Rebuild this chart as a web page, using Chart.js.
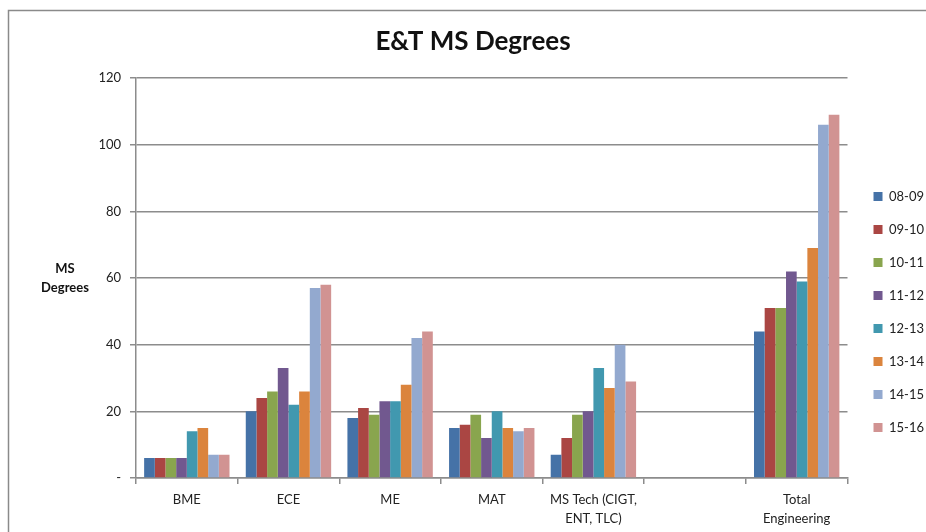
<!DOCTYPE html>
<html>
<head>
<meta charset="utf-8">
<script src="https://cdn.jsdelivr.net/npm/chart.js@4.4.0/dist/chart.umd.min.js"></script>
<style>
  html, body { margin: 0; padding: 0; background: #fff; }
  #wrap { width: 926px; height: 532px; }
</style>
</head>
<body>
<div id="wrap"><canvas id="msChart" width="926" height="532"></canvas></div>
<script>
// Categories and values
const categories = ['BME', 'ECE', 'ME', 'MAT', ['MS Tech (CIGT,', 'ENT, TLC)'], '', ['Total', 'Engineering']];
const years = ['08-09', '09-10', '10-11', '11-12', '12-13', '13-14', '14-15', '15-16'];

const y0809 = [6, 20, 18, 15, 7, null, 44];
const y0910 = [6, 24, 21, 16, 12, null, 51];
const y1011 = [6, 26, 19, 19, 19, null, 51];
const y1112 = [6, 33, 23, 12, 20, null, 62];
const y1213 = [14, 22, 23, 20, 33, null, 59];
const y1314 = [15, 26, 28, 15, 27, null, 69];
const y1415 = [7, 57, 42, 14, 40, null, 106];
const y1516 = [7, 58, 44, 15, 29, null, 109];

const yTicks = [0, 20, 40, 60, 80, 100, 120];

const seriesValues = [y0809, y0910, y1011, y1112, y1213, y1314, y1415, y1516];
const colors = ['#4572a7', '#aa4643', '#89a54e', '#71588f', '#4198af', '#db843d', '#93a9cf', '#d19392'];

const fontFamily = 'Lato, "Open Sans", sans-serif';
const gridColor = '#8c8c8c';

// frame around the chart, the horizontal axis title, title and legend nudged
const decorations = {
    id: 'decorations',
    afterLayout(chart) {
        chart.legend.top += 46;
        chart.legend.bottom += 46;
        chart.legend.left += 6;
        chart.legend.right += 6;
        chart.titleBlock.left += 9;
        chart.titleBlock.right += 9;
    },
    beforeDraw(chart) {
        const ctx = chart.ctx;
        ctx.save();
        ctx.strokeStyle = '#8a8a8a';
        ctx.lineWidth = 1.5;
        ctx.strokeRect(8.5, 10.5, 1000, 1000);
        ctx.restore();
    },
    afterDraw(chart) {
        const ctx = chart.ctx;
        ctx.save();
        ctx.fillStyle = '#111';
        ctx.font = 'bold 13px ' + fontFamily;
        ctx.textAlign = 'center';
        ctx.textBaseline = 'middle';
        ctx.fillText('MS', 65, 269);
        ctx.fillText('Degrees', 65, 288);
        ctx.restore();
    }
};

const datasets = seriesValues.map((vals, i) => ({
    label: years[i],
    data: vals,
    backgroundColor: colors[i],
    borderWidth: 0,
    barPercentage: 1.0,
    categoryPercentage: 0.84
}));

new Chart(document.getElementById('msChart'), {
    type: 'bar',
    data: { labels: categories, datasets: datasets },
    options: {
        responsive: false,
        animation: false,
        layout: { padding: { left: 0, right: -2, top: 0, bottom: 0 } },
        plugins: {
            title: {
                display: true,
                text: 'E&T MS Degrees',
                color: '#111',
                font: { family: fontFamily, size: 26, weight: 'bold' },
                padding: { top: 26, bottom: 21 }
            },
            legend: {
                position: 'right',
                labels: {
                    color: '#222',
                    font: { family: fontFamily, size: 13 },
                    boxWidth: 9,
                    boxHeight: 9,
                    padding: 20
                }
            },
            tooltip: { enabled: false }
        },
        scales: {
            x: {
                afterFit(s) { s.height = 54; },
                grid: {
                    display: true,
                    drawOnChartArea: false,
                    offset: true,
                    color: gridColor,
                    lineWidth: 1.5,
                    tickLength: 6
                },
                border: { color: gridColor, width: 1.5 },
                ticks: {
                    color: '#222',
                    font: { family: fontFamily, size: 13, lineHeight: 1.5 },
                    maxRotation: 0,
                    autoSkip: false,
                    padding: 6
                }
            },
            y: {
                min: 0,
                max: 120,
                afterFit(s) { s.width = 136; },
                afterBuildTicks(s) { s.ticks = yTicks.map(v => ({ value: v })); },
                grid: {
                    color: gridColor,
                    lineWidth: 1.5,
                    tickLength: 6
                },
                border: { color: gridColor, width: 1.5 },
                ticks: {
                    color: '#222',
                    font: { family: fontFamily, size: 13 },
                    padding: 9,
                    callback: v => (v === 0 ? '-' : v)
                }
            }
        }
    },
    plugins: [decorations]
});
</script>
</body>
</html>
